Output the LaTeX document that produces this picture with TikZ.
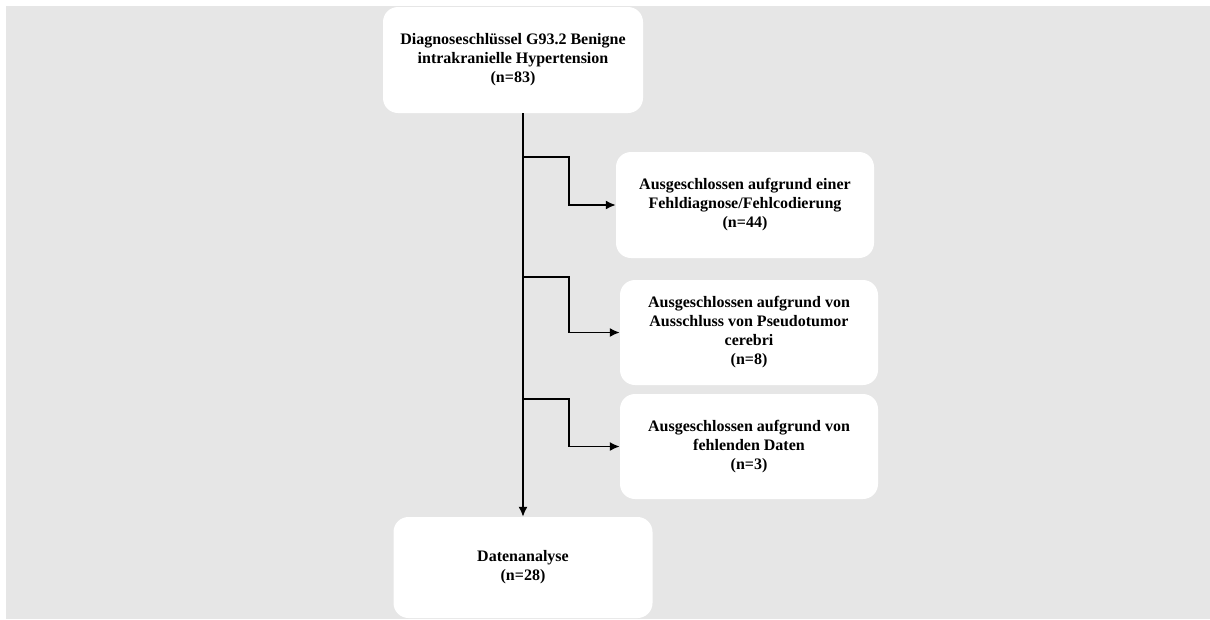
\documentclass[tikz,border=0pt]{standalone}
\usepackage{fontspec}
\setmainfont{Liberation Serif}
\usetikzlibrary{arrows.meta,positioning,calc}
\definecolor{bggray}{HTML}{E6E6E6}

\begin{document}
\begin{tikzpicture}[x=1pt,y=-1pt,
  box/.style={fill=white,rounded corners=15pt,align=center,inner sep=0pt,
    font=\fontsize{16}{19}\selectfont\bfseries},
  flow/.style={line width=1.7pt,-{Latex[length=10pt,width=9pt]}}]
\useasboundingbox (0,0) rectangle (1210,619);
\fill[bggray] (6,6) rectangle (1210,619);
% boxes
\node[box,minimum width=260pt,minimum height=106pt] (top)  at (513,60)
  {Diagnoseschl\"ussel G93.2 Benigne\\intrakranielle Hypertension\\(n=83)};
\node[box,minimum width=258pt,minimum height=106pt] (excl1) at (745,205)
  {Ausgeschlossen aufgrund einer\\Fehldiagnose/Fehlcodierung\\(n=44)};
\node[box,minimum width=258pt,minimum height=105pt] (excl2) at (749,332.5)
  {Ausgeschlossen aufgrund von\\Ausschluss von Pseudotumor\\cerebri\\(n=8)};
\node[box,minimum width=258pt,minimum height=105pt] (excl3) at (749,446.5)
  {Ausgeschlossen aufgrund von\\fehlenden Daten\\(n=3)};
\node[box,minimum width=259pt,minimum height=101pt] (analysis) at (523,567.5)
  {Datenanalyse\\(n=28)};
% connectors
\coordinate (b1) at (523,157);
\coordinate (b2) at (523,277);
\coordinate (b3) at (523,399);
\draw[flow] (top.south -| analysis.north) -- (analysis.north);
\draw[flow] (b1) -- ++(46,0) |- (excl1.west);
\draw[flow] (b2) -- ++(46,0) |- (excl2.west);
\draw[flow] (b3) -- ++(46,0) |- (excl3.west);
\end{tikzpicture}
\end{document}
